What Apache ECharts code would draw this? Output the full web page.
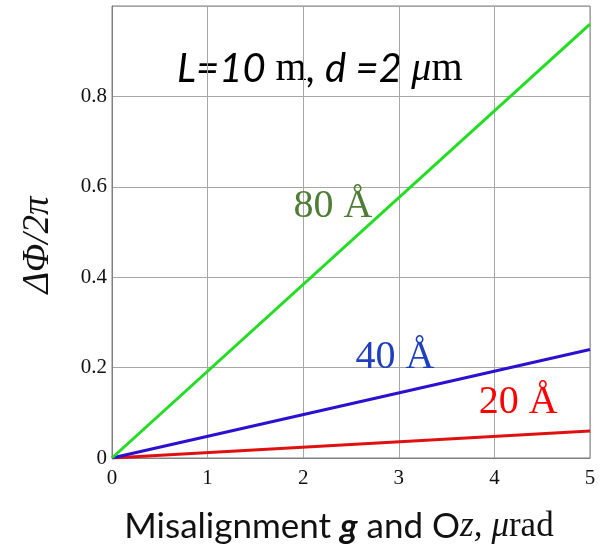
<!DOCTYPE html>
<html>
<head>
<meta charset="utf-8">
<script src="https://cdn.jsdelivr.net/npm/echarts@6/dist/echarts.min.js"></script>
<style>
  html, body { margin: 0; padding: 0; background: #fff; }
  #main { width: 610px; height: 544px; }
</style>
</head>
<body>
<div id="main"></div>
<script>
// misalignment values (x), microrad
var misalign = [0, 5];
// phase shift / 2pi for each wavelength
var phase20 = [0, 0.06];
var phase40 = [0, 0.24];
var phase80 = [0, 0.96];
var waveNames = ['20 Å', '40 Å', '80 Å'];
// where each wavelength label sits, in data units
var labelAt20 = [4.25, 0.123];
var labelAt40 = [2.96, 0.222];
var labelAt80 = [2.31, 0.557];

function pairs(xs, ys) {
    return xs.map(function (x, i) { return [x, ys[i]]; });
}

var chart = echarts.init(document.getElementById('main'));

function lineSeries(name, ys, color, labelPos, labelColor) {
    return {
        name: name,
        type: 'line',
        data: pairs(misalign, ys),
        symbol: 'none',
        lineStyle: { color: color, width: 3 },
        silent: true,
        markPoint: {
            symbol: 'circle',
            symbolSize: 0,
            data: [{ coord: labelPos, value: name }],
            label: {
                show: true,
                position: 'inside',
                formatter: name,
                fontFamily: 'Liberation Serif',
                fontSize: 40,
                color: labelColor
            }
        }
    };
}

chart.setOption({
    backgroundColor: '#fff',
    animation: false,
    grid: {
        left: 112, right: 20, top: 6, bottom: 86,
        show: true, borderColor: '#808080', borderWidth: 1
    },
    xAxis: {
        type: 'value',
        min: 0, max: 5, interval: 1,
        axisLine: { show: true, lineStyle: { color: '#808080' } },
        axisTick: { show: false },
        splitLine: { show: true, lineStyle: { color: '#a6a6a6', width: 1 } },
        axisLabel: {
            fontFamily: 'Liberation Serif', fontSize: 21, color: '#111', margin: 10,
            showMaxLabel: true, showMinLabel: true
        }
    },
    yAxis: {
        type: 'value',
        min: 0, max: 1, interval: 0.2,
        axisLine: { show: true, lineStyle: { color: '#808080' } },
        axisTick: { show: false },
        splitLine: { show: true, lineStyle: { color: '#a6a6a6', width: 1 } },
        axisLabel: {
            fontFamily: 'Liberation Serif', fontSize: 21, color: '#111', margin: 5,
            formatter: function (v) {
                if (v >= 0.999) return '';
                return v === 0 ? '0' : v.toFixed(1);
            }
        }
    },
    graphic: [{
        type: 'text',
        x: 177,
        y: 49,
        style: {
            text: '{i|L=10}{u| m}{i|, d =2 }{m|μ}{u|m}',
            rich: {
                i: { fontFamily: 'Lato', fontStyle: 'italic', fontSize: 40, fill: '#000' },
                u: { fontFamily: 'Liberation Serif', fontSize: 40, fill: '#000' },
                m: { fontFamily: 'Liberation Serif', fontStyle: 'italic', fontSize: 40, fill: '#000' }
            }
        }
    }, {
        type: 'text',
        x: 38,
        y: 245,
        rotation: Math.PI / 2,
        style: {
            text: 'ΔΦ/2π',
            align: 'center',
            verticalAlign: 'middle',
            fontFamily: 'Liberation Serif', fontStyle: 'italic', fontSize: 37, fill: '#111'
        }
    }, {
        type: 'text',
        x: 339,
        y: 527,
        style: {
            text: '{s|Misalignment }{b|g}{s| and O}{z|z,}{s| }{m|μ}{r|rad}',
            align: 'center',
            verticalAlign: 'middle',
            rich: {
                s: { fontFamily: 'Lato', fontSize: 35, fill: '#111' },
                b: { fontFamily: 'Lato', fontSize: 35, fontWeight: 'bold', fontStyle: 'italic', fill: '#111' },
                z: { fontFamily: 'Liberation Serif', fontSize: 35, fontStyle: 'italic', fill: '#111' },
                m: { fontFamily: 'Liberation Serif', fontSize: 35, fontStyle: 'italic', fill: '#111' },
                r: { fontFamily: 'Liberation Serif', fontSize: 35, fill: '#111' }
            }
        }
    }],
    series: [
        lineSeries(waveNames[0], phase20, '#e01010', labelAt20, '#ff0000'),
        lineSeries(waveNames[1], phase40, '#2a10d0', labelAt40, '#1f3fbf'),
        lineSeries(waveNames[2], phase80, '#22dd22', labelAt80, '#4e7d35')
    ]
});
</script>
</body>
</html>
